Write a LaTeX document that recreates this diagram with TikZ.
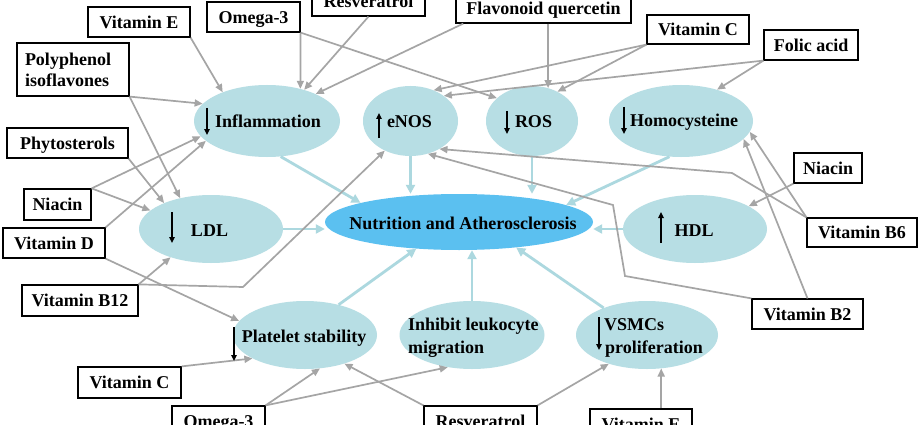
\documentclass[tikz,border=0pt]{standalone}
\usepackage{fontspec}
\setmainfont{Liberation Serif}
\usetikzlibrary{shapes.geometric,arrows.meta,calc}
\definecolor{ellfill}{RGB}{183,222,228}
\definecolor{cenfill}{RGB}{91,192,240}
\definecolor{garr}{RGB}{165,165,165}
\definecolor{barr}{RGB}{172,216,223}
\begin{document}
\begin{tikzpicture}[x=1pt,y=-1pt,
  font=\fontsize{18}{23}\selectfont\bfseries,
  ell/.style={ellipse, fill=ellfill, inner sep=0pt},
  bx/.style={draw=black, line width=1.2pt, fill=white, inner sep=0pt, text height=12.5pt, text depth=0pt},
  lbl/.style={inner sep=0pt, anchor=base},
  lblw/.style={inner sep=0pt, anchor=base west},
  g/.style={draw=garr, line width=1.7pt, -{Triangle[length=8pt,width=7pt]}},
  lb/.style={draw=barr, line width=2.8pt, -{Triangle[length=9pt,width=9pt]}},
  blk/.style={draw=black, line width=1.6pt, -{Triangle[length=6pt,width=5.5pt]}}
]
\useasboundingbox (0,0) rectangle (920,425);
\clip (0,0) rectangle (920,425);
\fill[white] (0,0) rectangle (920,425);

% ellipses
\node[ell, minimum width=146pt, minimum height=72pt] (infl) at (267,121) {};
\node[ell, minimum width=95pt, minimum height=70pt] (enos) at (410.5,121) {};
\node[ell, minimum width=92pt, minimum height=70pt] (ros) at (532,121) {};
\node[ell, minimum width=144pt, minimum height=72pt] (homo) at (681,121) {};
\node[ell, minimum width=144pt, minimum height=68pt] (ldl) at (211,229) {};
\node[ellipse, fill=cenfill, inner sep=0pt, minimum width=268pt, minimum height=56pt] (cen) at (459,222) {};
\node[ell, minimum width=144pt, minimum height=68pt] (hdl) at (695,229) {};
\node[ell, minimum width=144pt, minimum height=68pt] (plat) at (305,335) {};
\node[ell, minimum width=145pt, minimum height=68pt] (inhib) at (472,335) {};
\node[ell, minimum width=142pt, minimum height=68pt] (vsmc) at (647,335) {};

% light blue arrows to the centre
\draw[lb] (infl.291) -- (cen.169);
\draw[lb] (enos.south) -- (enos.south |- cen.north);
\draw[lb] (ros.south) -- (ros.south |- cen.north);
\draw[lb] (homo.252) -- (cen.9);
\draw[lb] (ldl.east) -- (ldl.east -| cen.west);
\draw[lb] (hdl.west) -- (hdl.west -| cen.east);
\draw[lb] (plat.42) -- (cen.212);
\draw[lb] (inhib.north) -- (inhib.north |- cen.south);
\draw[lb] (vsmc.148) -- (cen.336);

% boxes
\node[bx, minimum width=102pt, minimum height=30pt] (vitE1) at (139,22) {Vitamin E};
\node[bx, minimum width=93pt, minimum height=30pt] (om1) at (253.5,17) {Omega-3};
\node[bx, minimum width=113pt, minimum height=30pt] (res1) at (368.5,1) {Resveratrol};
\node[bx, minimum width=175pt, minimum height=30pt] (flav) at (543.5,8) {Flavonoid quercetin};
\node[bx, minimum width=102pt, minimum height=29pt] (vitC1) at (698,29.5) {Vitamin C};
\node[bx, minimum width=94pt, minimum height=30pt] (folic) at (811,45) {Folic acid};
\node[draw=black, line width=1.2pt, fill=white, inner xsep=8pt, inner ysep=0pt, text width=96pt, minimum height=53pt, align=left, font=\fontsize{18}{21}\selectfont\bfseries] (poly) at (73,69.5) {Polyphenol\\isoflavones};
\node[bx, minimum width=121pt, minimum height=30pt] (phyto) at (67.5,143) {Phytosterols};
\node[bx, minimum width=67pt, minimum height=31pt] (nia1) at (57.5,204.5) {Niacin};
\node[bx, minimum width=102pt, minimum height=30pt] (vitD) at (54,243) {Vitamin D};
\node[bx, minimum width=116pt, minimum height=31pt] (b12) at (80,300.5) {Vitamin B12};
\node[bx, minimum width=103pt, minimum height=31pt] (vitC2) at (129.5,382.5) {Vitamin C};
\node[bx, minimum width=93pt, minimum height=30pt] (om2) at (218.5,421) {Omega-3};
\node[bx, minimum width=113pt, minimum height=30pt] (res2) at (480.5,421) {Resveratrol};
\node[bx, minimum width=102pt, minimum height=30pt] (vitE2) at (641,424) {Vitamin E};
\node[bx, minimum width=111pt, minimum height=30pt] (b2) at (807.5,314) {Vitamin B2};
\node[bx, minimum width=110pt, minimum height=29pt] (b6) at (862,232.5) {Vitamin B6};
\node[bx, minimum width=68pt, minimum height=30pt] (nia2) at (828,168) {Niacin};

\coordinate (b12bend) at (243,287);
\coordinate (b6bend) at (732,173);
\coordinate (b2bendA) at (625,276);
\coordinate (b2bendB) at (613,205);

% grey arrows
\draw[g] (vitE1.south east) -- (infl.147);
\draw[g] (om1.south east) -- (infl.44);
\draw[g] (om1.south east) -- (ros.147);
\draw[g] (res1.south) -- (infl.40);
\draw[g] (flav.191.5) -- (infl.29);
\draw[g] (flav.south -| ros.64) -- (ros.64);
\draw[g] (vitC1.south west) -- (enos.53);
\draw[g] (vitC1.south west) -- (ros.49);
\draw[g] (folic.south west) -- (enos.37);
\draw[g] (folic.south west) -- (homo.41);
\draw[g] (poly.south east) -- (infl.165);
\draw[g] (poly.south east) -- (ldl.135);
\draw[g] (phyto.south east) -- (ldl.151);
\draw[g] (nia1.north east) -- (infl.193);
\draw[g] (nia1.north east) -- (ldl.163);
\draw[g] (vitD.north east) -- (infl.198);
\draw[g] (vitD.south east) -- (plat.168);
\draw[g] (b12.north east) -- (ldl.215);
\draw[g] (b12.north east) -- (b12bend) -- (enos.229);
\draw[g] (vitC2.north east) -- (plat.204);
\draw[g] (om2.north east) -- (plat.294);
\draw[g] (om2.north east) -- (inhib.233);
\draw[g] (res2.north west) -- (plat.324);
\draw[g] (res2.north east) -- (vsmc.217);
\draw[g] (vitE2.north -| vsmc.293) -- (vsmc.293);
\draw[g] (nia2.south west) -- (hdl.23);
\draw[g] (b6.north west) -- (homo.351);
\draw[g] (b6.north west) -- (b6bend) -- (enos.316);
\draw[g] (b2.north) -- (homo.344);
\draw[g] (b2.north west) -- (b2bendA) -- (b2bendB) -- (enos.298);

% labels
\node[lbl] (infl-t) at (268,128) {Inflammation};
\node[lbl] (enos-t) at (409.5,128) {eNOS};
\node[lbl] (ros-t) at (533.5,128) {ROS};
\node[lbl] (homo-t) at (684,127) {Homocysteine};
\node[lbl] (ldl-t) at (209.5,236) {LDL};
\node[lbl] (cen-t) at (463,229) {Nutrition and Atherosclerosis};
\node[lbl] (hdl-t) at (694,236) {HDL};
\node[lbl] (plat-t) at (304,342) {Platelet stability};
\node[lblw] (inhib-t1) at (408,330) {Inhibit leukocyte};
\node[lblw] (inhib-t2) at (408,353) {migration};
\node[lblw] (vsmc-t1) at (604,330) {VSMCs};
\node[lblw] (vsmc-t2) at (605,353) {proliferation};

% up / down arrows
\draw[blk] ($(infl)+(-60,-13)$) -- ++(0,27);
\draw[blk] ($(enos)+(-31.5,17)$) -- ++(0,-25);
\draw[blk] ($(ros)+(-25,-10)$) -- ++(0,23);
\draw[blk] ($(homo)+(-57,-14)$) -- ++(0,27);
\draw[blk] ($(ldl)+(-39,-17)$) -- ++(0,31);
\draw[blk] ($(hdl)+(-34,14)$) -- ++(0,-31);
\draw[blk] ($(plat)+(-71,-8)$) -- ++(0,34);
\draw[blk] ($(vsmc)+(-48,-18)$) -- ++(0,33);
\end{tikzpicture}
\end{document}
